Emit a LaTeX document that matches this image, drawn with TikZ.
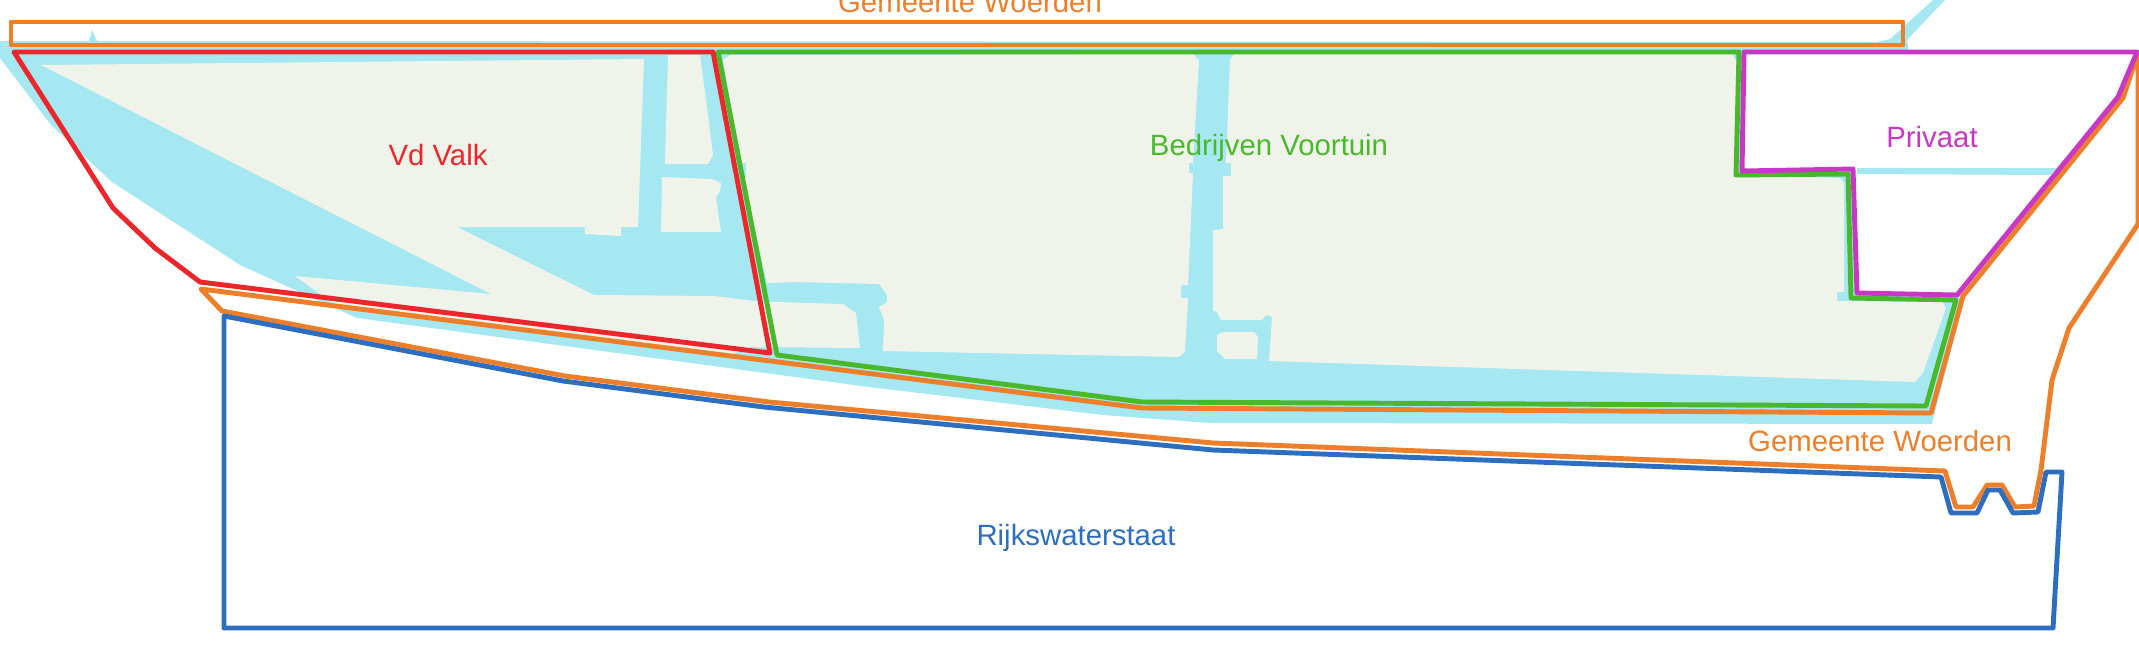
\documentclass[tikz,border=0pt]{standalone}
\usepackage{fontspec}
\setmainfont{Liberation Sans}
\definecolor{waterblue}{RGB}{165, 232, 242}
\definecolor{landgrey}{RGB}{240, 243, 234}
\definecolor{woerdenorange}{RGB}{237, 127, 42}
\definecolor{valkred}{RGB}{236, 38, 42}
\definecolor{voortuingreen}{RGB}{74, 184, 44}
\definecolor{privaatpurple}{RGB}{200, 56, 196}
\definecolor{rijksblue}{RGB}{45, 111, 190}
\tikzset{
  plot/.style={line width=2.8pt, line join=round},
  plotlabel/.style={inner sep=0pt, font=\fontsize{16.7}{20}\selectfont},
}
\begin{document}
\begin{tikzpicture}[x=0.02cm, y=-0.02cm]
            \useasboundingbox (0,0) rectangle (2139,659);
            \fill[waterblue] (0,41) -- (89,41) -- (92,30) -- (97,41) -- (1877,42) -- (1890,39) -- (1933,0) -- (1945,0) -- (1907,40) -- (1908,45) -- (1908,54) -- (1744,54) -- (1741,170) -- (1853,172) -- (1857,293) -- (1957,295) -- (1965,296) -- (1932,424) -- (1210,423) -- (1103,415) -- (869,387) -- (357,318) -- (240,265) -- (112,182) -- (51,125) -- (0,58) -- cycle;
            \fill[waterblue] (1857,168) -- (2057,168) -- (2050,175) -- (1857,174) -- cycle;
            \fill[landgrey]  (41,65) -- (644,59) -- (638,227) -- (621,227) -- (621,236) -- (585,234) -- (585,227) -- (457,227) -- (594,295) -- (714,296) -- (755,301) -- (777,302) -- (843,304) -- (856,313) -- (860,348) -- (751,347) -- (730,355) -- (337,306) -- (295,276) -- (491,294) -- cycle;
            \fill[landgrey]  (668,55) -- (700,55) -- (707,107) -- (713,155) -- (708,164) -- (665,164) -- cycle;
            \fill[landgrey]  (662,177) -- (712,179) -- (721,183) -- (720,191) -- (716,197) -- (721,232) -- (661,232) -- cycle;
            \fill[landgrey]  (730,55) -- (1193,54) -- (1199,60) -- (1193,163) -- (1189,163) -- (1189,173) -- (1193,173) -- (1188,285) -- (1181,285) -- (1181,298) -- (1188,298) -- (1185,352) -- (1179,357) -- (883,351) -- (884,320) -- (879,307) -- (887,302) -- (887,295) -- (879,284) -- (795,282) -- (767,283) -- (743,177) -- (746,177) -- (746,163) -- (740,163) -- (723,60) -- cycle;
            \fill[landgrey]  (1234,54) -- (1732,54) -- (1737,62) -- (1737,175) -- (1840,178) -- (1844,183) -- (1844,292) -- (1837,292) -- (1837,301) -- (1942,302) -- (1946,308) -- (1923,373) -- (1915,382) -- (1640,373) -- (1269,361) -- (1272,317) -- (1266,315) -- (1262,320) -- (1221,320) -- (1217,312) -- (1213,311) -- (1213,230) -- (1223,229) -- (1223,176) -- (1231,176) -- (1231,163) -- (1226,163) -- (1230,60) -- cycle;
            \fill[landgrey]  (1217,335) -- (1223,332) -- (1254,332) -- (1258,337) -- (1257,359) -- (1225,359) -- (1217,351) -- cycle;
            \draw[plot, woerdenorange] (11,22) rectangle (1903,45);
            \draw[plot, woerdenorange] (201,289) -- (222,311) -- (565,376) -- (769,402) -- (1213,443) -- (1945,471) -- (1956,507) -- (1973,507) -- (1987,485) -- (2002,485) -- (2015,507) -- (2034,506) -- (2041,470) -- (2052,380) -- (2069,328) -- (2138,224) -- (2138,53) -- (2123,98) -- (1963,296) -- (1931,413) -- (1142,408) -- cycle;
            \draw[plot, rijksblue] (224,316) -- (563,381) -- (764,407) -- (1213,450) -- (1941,477) -- (1951,513) -- (1977,513) -- (1988,490) -- (2000,490) -- (2013,513) -- (2038,512) -- (2046,472) -- (2062,472) -- (2053,628) -- (224,628) -- cycle;
            \draw[plot, voortuingreen] (718,52) -- (1739,52) -- (1736,175) -- (1848,174) -- (1851,298) -- (1956,300) -- (1926,406) -- (1142,402) -- (777,355) -- cycle;
            \draw[plot, valkred] (14,52) -- (713,52) -- (770,353) -- (200,282) -- (155,248) -- (113,208) -- cycle;
            \draw[plot, privaatpurple] (1744,52) -- (2137,52) -- (2118,97) -- (1957,295) -- (1857,293) -- (1853,169) -- (1742,171) -- cycle;
            \node[plotlabel, text=woerdenorange] (woerdenTop) at (970,2) {Gemeente Woerden};
            \node[plotlabel, text=valkred] (valk) at (438,155) {Vd Valk};
            \node[plotlabel, text=voortuingreen] (voortuin) at (1269,148) {Bedrijven Voortuin};
            \node[plotlabel, text=privaatpurple] (privaat) at (1932,137) {Privaat};
            \node[plotlabel, text=woerdenorange] (woerdenBottom) at (1880,441) {Gemeente Woerden};
            \node[plotlabel, text=rijksblue] (rijkswaterstaat) at (1076,538) {Rijkswaterstaat};
\end{tikzpicture}
\end{document}
